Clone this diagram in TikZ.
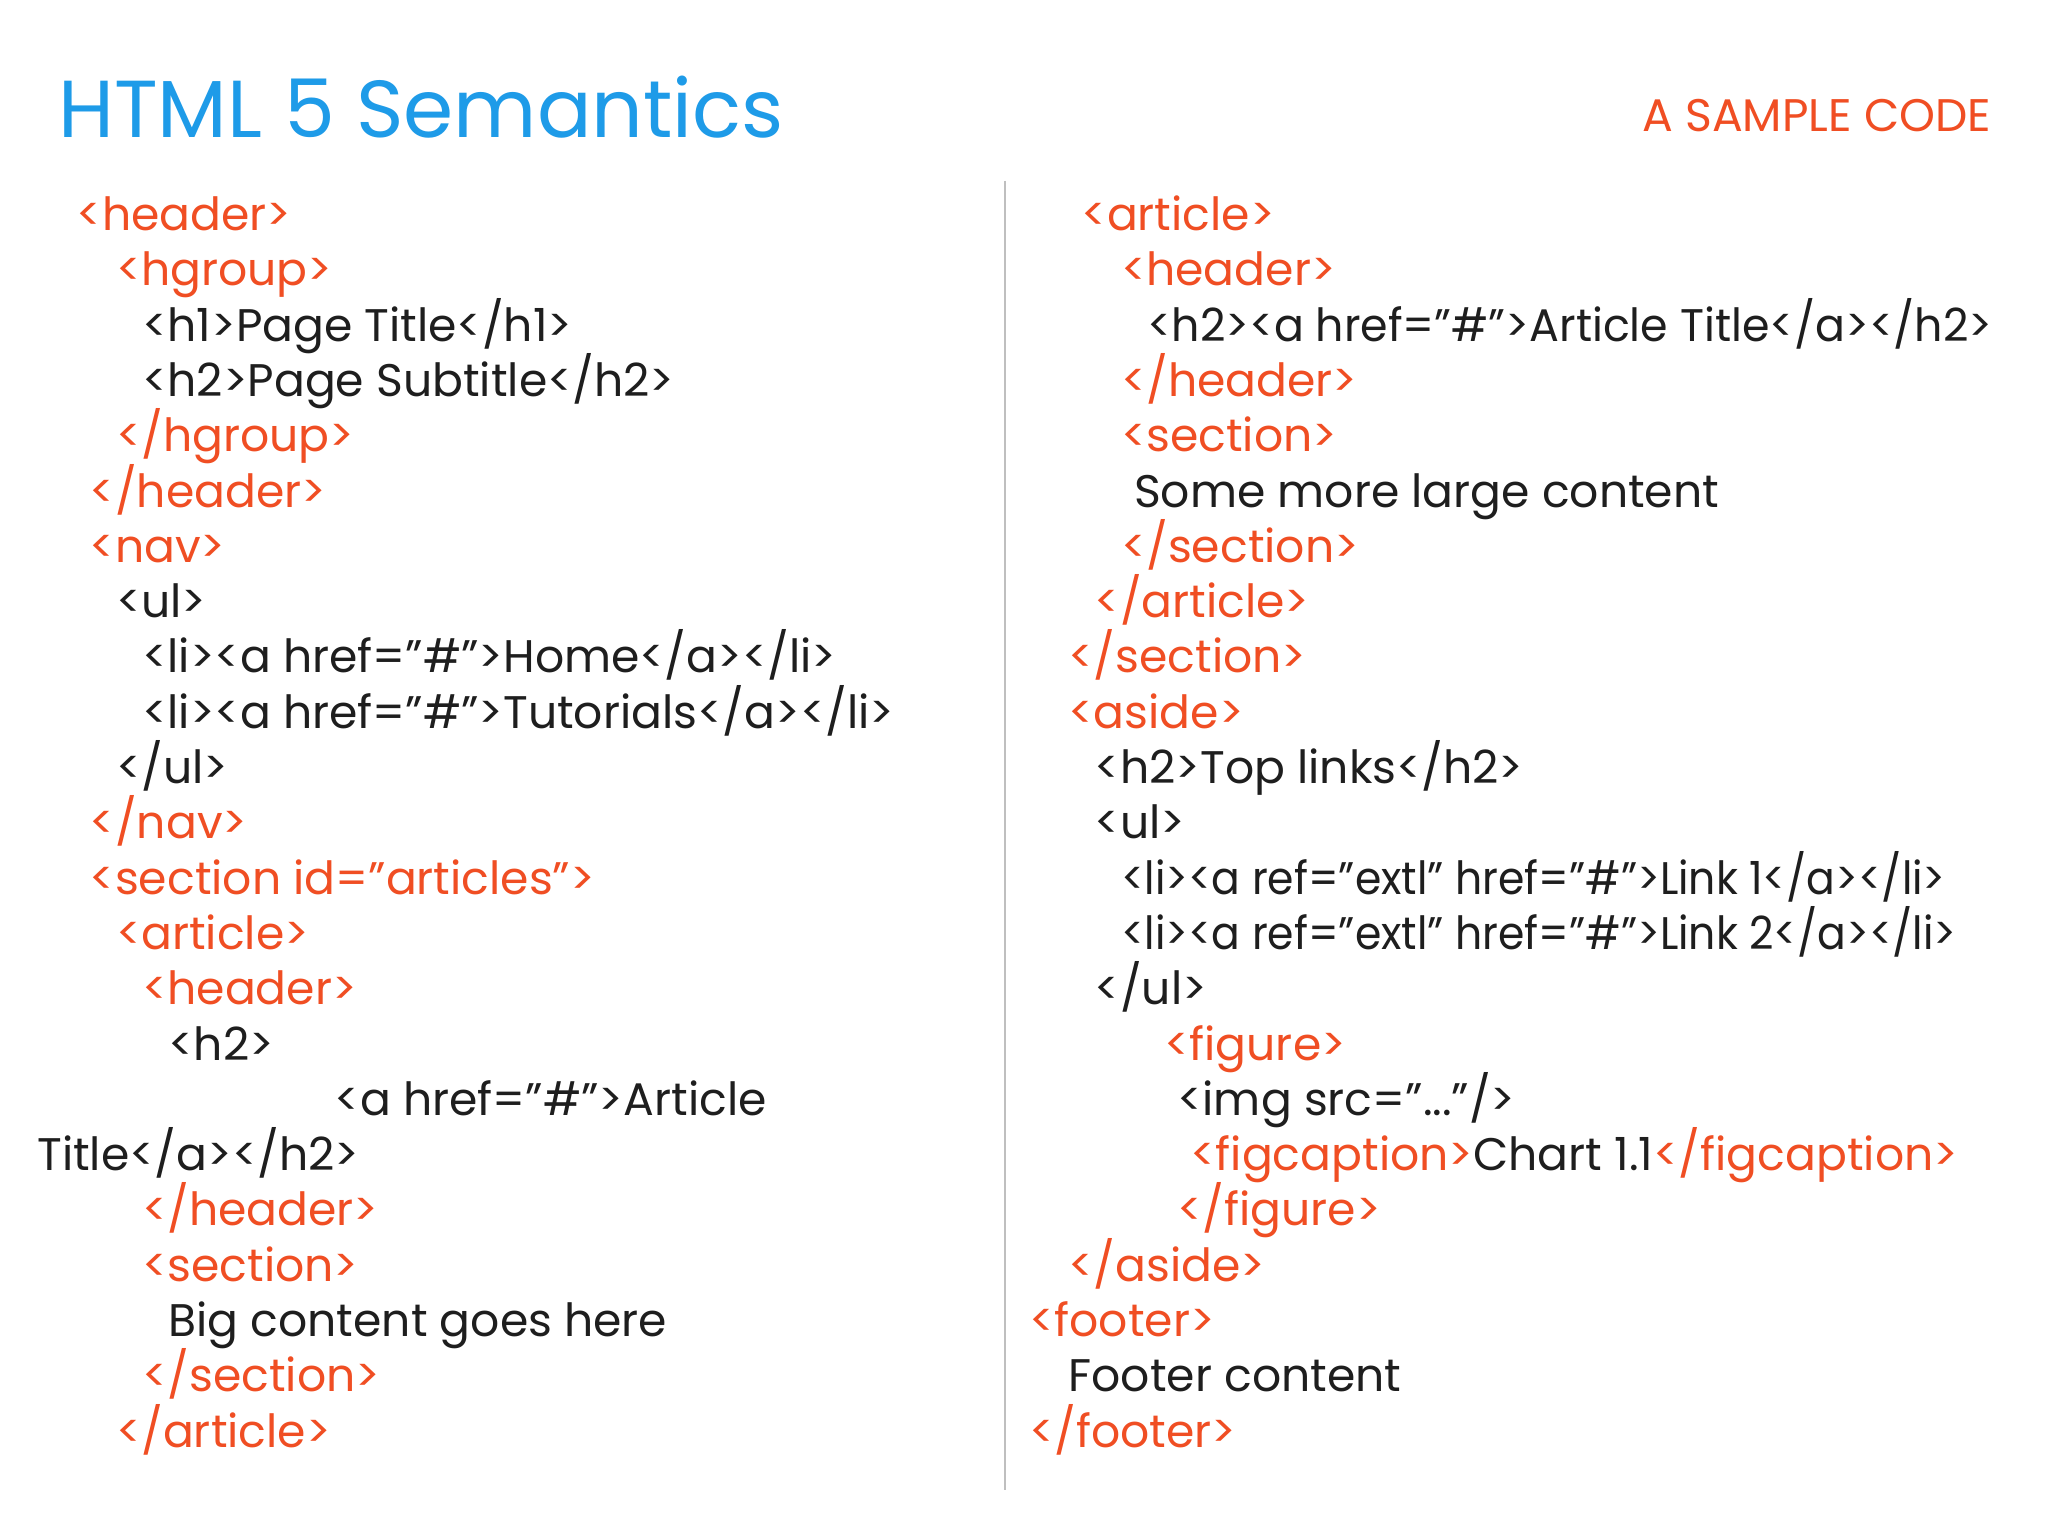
\documentclass[tikz,border=0pt]{standalone}
\usepackage{fontspec}
\setmainfont{Poppins}
\definecolor{tagc}{HTML}{F04E23}
\definecolor{txtc}{HTML}{1E1E1E}
\definecolor{bluec}{HTML}{1E9BE8}
\newcommand{\qq}{\symbol{34}}
\begin{document}
\begin{tikzpicture}[x=0.013103cm,y=-0.013103cm,
  code/.style={anchor=base west,inner sep=0pt,font=\fontsize{13}{16}\selectfont\mdseries},
  tg/.style={code,text=tagc},tx/.style={code,text=txtc}]
\fill[white] (0,0) rectangle (1563,1172);
\useasboundingbox (0,0) rectangle (1563,1172);
\node[anchor=base west,inner sep=0pt,text=bluec,font=\fontsize{23}{28}\selectfont] (title) at (44,105) {HTML 5 Semantics};
\node[anchor=base east,inner sep=0pt,text=tagc,font=\fontsize{13}{16}\selectfont] (sub) at (1520,100) {A SAMPLE CODE};
\draw[gray!50,line width=0.8pt] (767,138) coordinate (d1) -- (767,1137) coordinate (d2);
\def\ly#1{\fpeval{167+42.2*(#1)+9}}
% left column
\node[tg] (l0) at (58,{\ly{0}}) {<header>};
\node[tg] (l1) at (88,{\ly{1}}) {<hgroup>};
\node[tx] (l2) at (108,{\ly{2}}) {<h1>Page Title</h1>};
\node[tx] (l3) at (108,{\ly{3}}) {<h2>Page Subtitle</h2>};
\node[tg] (l4) at (88,{\ly{4}}) {</hgroup>};
\node[tg] (l5) at (68,{\ly{5}}) {</header>};
\node[tg] (l6) at (68,{\ly{6}}) {<nav>};
\node[tx] (l7) at (88,{\ly{7}}) {<ul>};
\node[tx] (l8) at (108,{\ly{8}}) {<li><a href=\qq\#\qq>Home</a></li>};
\node[tx] (l9) at (108,{\ly{9}}) {<li><a href=\qq\#\qq>Tutorials</a></li>};
\node[tx] (l10) at (88,{\ly{10}}) {</ul>};
\node[tg] (l11) at (68,{\ly{11}}) {</nav>};
\node[tg] (l12) at (68,{\ly{12}}) {<section id=\qq articles\qq>};
\node[tg] (l13) at (88,{\ly{13}}) {<article>};
\node[tg] (l14) at (108,{\ly{14}}) {<header>};
\node[tx] (l15) at (128,{\ly{15}}) {<h2>};
\node[tx] (l16) at (255,{\ly{16}}) {<a href=\qq\#\qq>Article};
\node[tx] (l17) at (28,{\ly{17}}) {Title</a></h2>};
\node[tg] (l18) at (108,{\ly{18}}) {</header>};
\node[tg] (l19) at (108,{\ly{19}}) {<section>};
\node[tx] (l20) at (128,{\ly{20}}) {Big content goes here};
\node[tg] (l21) at (108,{\ly{21}}) {</section>};
\node[tg] (l22) at (88,{\ly{22}}) {</article>};
% right column
\node[tg] (r0) at (825,{\ly{0}}) {<article>};
\node[tg] (r1) at (855,{\ly{1}}) {<header>};
\node[tx] (r2) at (875,{\ly{2}}) {\scalebox{0.97}[1]{<h2><a href=\qq\#\qq>Article Title</a></h2>}};
\node[tg] (r3) at (855,{\ly{3}}) {</header>};
\node[tg] (r4) at (855,{\ly{4}}) {<section>};
\node[tx] (r5) at (865,{\ly{5}}) {Some more large content};
\node[tg] (r6) at (855,{\ly{6}}) {</section>};
\node[tg] (r7) at (835,{\ly{7}}) {</article>};
\node[tg] (r8) at (815,{\ly{8}}) {</section>};
\node[tg] (r9) at (815,{\ly{9}}) {<aside>};
\node[tx] (r10) at (835,{\ly{10}}) {<h2>Top links</h2>};
\node[tx] (r11) at (835,{\ly{11}}) {<ul>};
\node[tx] (r12) at (855,{\ly{12}}) {\scalebox{0.93}[1]{<li><a ref=\qq extl\qq{} href=\qq\#\qq>Link 1</a></li>}};
\node[tx] (r13) at (855,{\ly{13}}) {\scalebox{0.93}[1]{<li><a ref=\qq extl\qq{} href=\qq\#\qq>Link 2</a></li>}};
\node[tx] (r14) at (835,{\ly{14}}) {</ul>};
\node[tg] (r15) at (888,{\ly{15}}) {<figure>};
\node[tx] (r16) at (898,{\ly{16}}) {<img src=\qq...\qq/>};
\node[tg] (r17) at (908,{\ly{17}}) {<figcaption>\textcolor{txtc}{Chart 1.1}</figcaption>};
\node[tg] (r18) at (898,{\ly{18}}) {</figure>};
\node[tg] (r19) at (815,{\ly{19}}) {</aside>};
\node[tg] (r20) at (785,{\ly{20}}) {<footer>};
\node[tx] (r21) at (815,{\ly{21}}) {Footer content};
\node[tg] (r22) at (785,{\ly{22}}) {</footer>};
\end{tikzpicture}
\end{document}
